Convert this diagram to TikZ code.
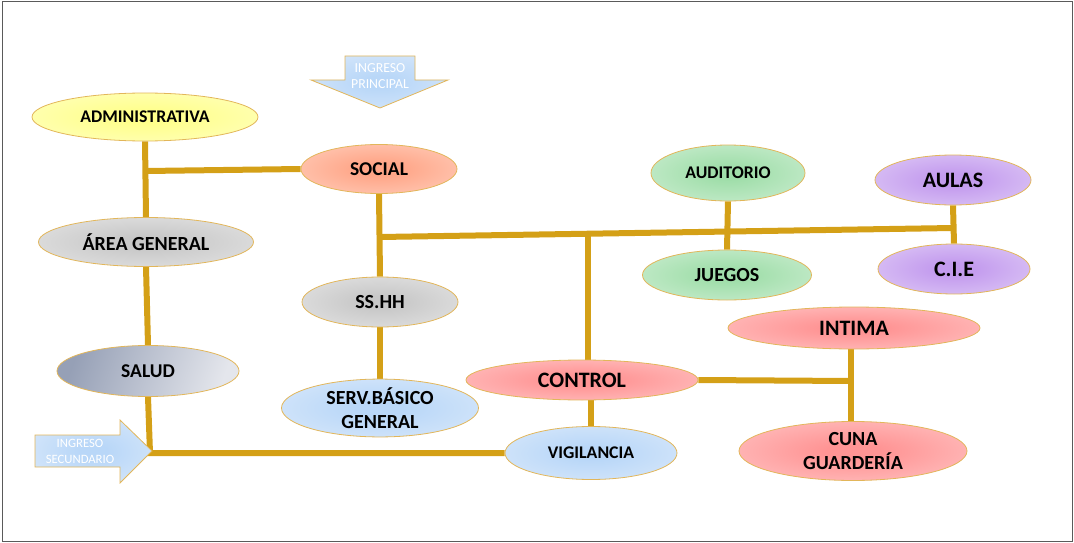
\documentclass[tikz,border=0pt]{standalone}
\usepackage{fontspec}
\setmainfont{Carlito}
\usetikzlibrary{shapes.geometric,backgrounds}
\definecolor{gold}{RGB}{212,160,23}
\definecolor{edgec}{RGB}{226,182,90}
\definecolor{frame}{RGB}{90,90,90}
\definecolor{yelA}{RGB}{255,255,140}\definecolor{yelB}{RGB}{255,255,215}
\definecolor{salA}{RGB}{255,165,135}\definecolor{salB}{RGB}{255,225,212}
\definecolor{gryA}{RGB}{200,200,200}\definecolor{gryB}{RGB}{242,242,242}
\definecolor{bluA}{RGB}{185,215,248}\definecolor{bluB}{RGB}{232,241,252}
\definecolor{pnkA}{RGB}{255,148,148}\definecolor{pnkB}{RGB}{255,218,218}
\definecolor{grnA}{RGB}{160,222,170}\definecolor{grnB}{RGB}{225,245,228}
\definecolor{purA}{RGB}{195,155,238}\definecolor{purB}{RGB}{236,224,250}
\definecolor{sldA}{RGB}{150,160,182}\definecolor{sldB}{RGB}{228,230,236}
\pgfdeclareradialshading[rin,rout]{soft}{\pgfpoint{0bp}{0bp}}{color(0bp)=(rin); color(6bp)=(rin); color(50bp)=(rout)}
\begin{document}
\begin{tikzpicture}[x=1pt,y=-1pt,
  room/.style={ellipse, draw=edgec, line width=0.8pt, inner sep=0pt, align=center},
  fs/.style={font=\bfseries\fontsize{#1}{24}\selectfont},
  rad/.style 2 args={/utils/exec={\colorlet{rin}{#1}\colorlet{rout}{#2}}, shade, shading=soft},
  yel/.style={rad={yelA}{yelB}},
  sal/.style={rad={salA}{salB}},
  gry/.style={rad={gryA}{gryB}},
  blu/.style={rad={bluA}{bluB}},
  pnk/.style={rad={pnkA}{pnkB}},
  grn/.style={rad={grnA}{grnB}},
  pur/.style={rad={purA}{purB}},
  link/.style={draw=gold, line width=6pt},
  arrowtxt/.style={text=white, align=center, font=\fontsize{#1}{16}\selectfont, inner sep=0pt}]
\useasboundingbox (0,0) rectangle (1074,543);
\draw[frame, line width=1pt] (2,2) rectangle (1072,541);

% rooms
\node[room, yel, fs=17.8, minimum width=226pt, minimum height=48pt] (admin) at (145,117) {ADMINISTRATIVA};
\node[room, sal, fs=19.5, minimum width=156pt, minimum height=49pt] (social) at (379,169) {SOCIAL};
\node[room, gry, fs=20, minimum width=215pt, minimum height=49pt] (area) at (146,242) {ÁREA GENERAL};
\node[room, gry, fs=20, minimum width=156pt, minimum height=50pt] (sshh) at (380,302) {SS.HH};
\node[room, fs=19.5, minimum width=182pt, minimum height=51pt, shading=axis, left color=sldA, right color=sldB, shading angle=70] (salud) at (148,371) {SALUD};
\node[room, blu, fs=20, minimum width=197pt, minimum height=53pt] (serv) at (380,408) {SERV.BÁSICO\\GENERAL};
\node[room, pnk, fs=22, minimum width=232pt, minimum height=40pt] (control) at (582,380) {CONTROL};
\node[room, blu, fs=17.8, minimum width=172pt, minimum height=53pt] (vig) at (591,453) {VIGILANCIA};
\node[room, grn, fs=17.8, minimum width=154pt, minimum height=56pt] (audit) at (728,173) {AUDITORIO};
\node[room, grn, fs=20, minimum width=169pt, minimum height=50pt] (juegos) at (727,275) {JUEGOS};
\node[room, pur, fs=22, minimum width=156pt, minimum height=50pt] (aulas) at (953,180) {AULAS};
\node[room, pur, fs=22, minimum width=152pt, minimum height=50pt] (cie) at (954,269) {C.I.E};
\node[room, pnk, fs=22, minimum width=252pt, minimum height=42pt] (intima) at (854,328) {INTIMA};
\node[room, pnk, fs=20, minimum width=228pt, minimum height=59pt] (cuna) at (853,451) {CUNA\\GUARDERÍA};

% entrance arrows
\path[draw=edgec, line width=0.8pt, rad={bluA}{bluB}]
  (345,56) -- (415,56) -- (415,80) -- (448,80) -- (380,108) -- (311,80) -- (345,80) -- cycle;
\node[arrowtxt=13.8] (ingp) at (380,76) {INGRESO\\PRINCIPAL};
\path[draw=edgec, line width=0.8pt, rad={bluA}{bluB}]
  (35,435) -- (120,435) -- (120,420) -- (152,451) -- (120,483) -- (120,467) -- (35,467) -- cycle;
\node[arrowtxt=12.7] (ings) at (80,451) {INGRESO\\SECUNDARIO};

% junctions
\coordinate (j1) at (146,171);
\coordinate (j2) at (380,237);
\coordinate (j3) at (953,228);
\coordinate (j4) at (588,233.5);
\coordinate (j5) at (851,381);
\coordinate (c1) at (150,453);

\begin{pgfonlayer}{background}
\draw[link] (admin.south) -- (area.north);
\draw[link] (j1) -- (social.west);
\draw[link] (area.south) -- (salud.north);
\draw[link] (salud.south) -- (c1) -- (vig.west);
\draw[link] (social.south) -- (sshh.north);
\draw[link] (sshh.south) -- (serv.north);
\draw[link] (j2) -- (j3);
\draw[link] (aulas.south) -- (cie.north);
\draw[link] (audit.south) -- (juegos.north);
\draw[link] (j4) -- (j4 |- control.north);
\draw[link] (vig.north |- control.south) -- (vig.north);
\draw[link] (control.east) -- (j5);
\draw[link] (intima.south -| j5) -- (cuna.north -| j5);
\end{pgfonlayer}
\end{tikzpicture}
\end{document}
